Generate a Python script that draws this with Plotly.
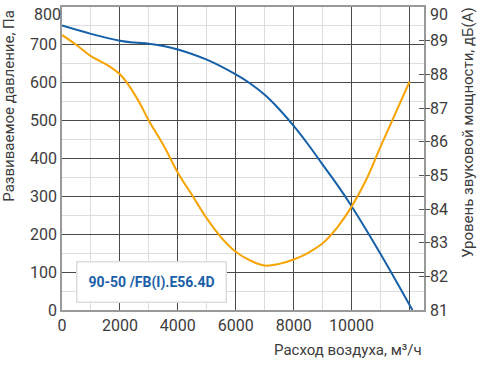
import plotly.graph_objects as go

# Pressure curve (left axis, Pa)
flow_p = [0, 1000, 2000, 2500, 3000, 3500, 4000, 5000, 6000, 6500, 7000, 7500, 8000, 8500, 9000, 9500, 10000, 11000, 12100]
pressure = [751, 729, 711, 706, 703, 697, 688, 661, 622, 598, 568, 530, 486, 437, 384, 331, 274, 148, 0]

# Sound power curve (right axis, dB(A))
flow_s = [0, 500, 1000, 1300, 1650, 2000, 2300, 2700, 3000, 3500, 4000, 4500, 5000, 5500, 6000, 6500, 7000, 7500, 8000, 8500, 9000, 9500, 10000, 10500, 11000, 12000]
sound = [89.17, 88.87, 88.54, 88.4, 88.23, 88.0, 87.68, 87.12, 86.62, 85.9, 85.08, 84.4, 83.72, 83.15, 82.73, 82.47, 82.32, 82.37, 82.5, 82.7, 82.98, 83.45, 84.07, 84.86, 85.85, 87.78]

x_ticks = [0, 2000, 4000, 6000, 8000, 10000, 12000]
x_ticktext = ["0", "2000", "4000", "6000", "8000", "10000", ""]
y_ticks = [0, 100, 200, 300, 400, 500, 600, 700, 800]
y_ticktext = ["0", "100", "200", "300", "400", "500", "600", "700", ""]
y_top = [800]
y2_ticks = [81, 82, 83, 84, 85, 86, 87, 88, 89]
y2_top = [90]
y2_dash = [82, 83, 84, 85, 86, 87, 88, 89]

model_label = "90-50 /FB(I).E56.4D"
x_title = "Расход воздуха, м³/ч"
y_title = "Развиваемое давление, Па"
y2_title = "Уровень звуковой мощности, дБ(А)"

FONT = "Roboto"
TXT = "#3c3c3c"
TICKF = dict(family=FONT, size=16, color=TXT)

fig = go.Figure()
fig.add_trace(go.Scatter(x=flow_p, y=pressure, mode="lines",
                         line=dict(color="#1560a8", width=2, shape="spline", smoothing=1.0),
                         showlegend=False, hoverinfo="skip"))
fig.add_trace(go.Scatter(x=flow_s, y=sound, mode="lines", yaxis="y2",
                         line=dict(color="#f7a300", width=2, shape="spline", smoothing=1.0),
                         showlegend=False, hoverinfo="skip"))
for ax in ["y3", "y4", "y5", "y6"]:
    fig.add_trace(go.Scatter(x=[None], y=[None], yaxis=ax, showlegend=False, hoverinfo="skip"))

common_overlay = dict(overlaying="y", showgrid=False, showline=False, zeroline=False,
                      ticklabeloverflow="allow")

fig.update_layout(
    width=489, height=369,
    margin=dict(l=62, r=65, t=7, b=59, autoexpand=False),
    paper_bgcolor="white", plot_bgcolor="white",
    font=dict(family=FONT, color=TXT, size=16),
    xaxis=dict(range=[0, 12500], tickvals=x_ticks, ticktext=x_ticktext,
               showgrid=True, gridcolor="#4a4a4a", gridwidth=1,
               minor=dict(dtick=1000, showgrid=True, gridcolor="#dddddd", gridwidth=1),
               showline=True, linecolor="#999999", linewidth=1.5, mirror=True,
               ticks="", tickfont=TICKF, zeroline=False, ticklabeloverflow="allow"),
    yaxis=dict(range=[0, 800], tickvals=y_ticks, ticktext=y_ticktext,
               showgrid=True, gridcolor="#4a4a4a", gridwidth=1,
               minor=dict(dtick=50, showgrid=True, gridcolor="#dddddd", gridwidth=1),
               showline=True, linecolor="#999999", linewidth=1.5, mirror=True,
               ticks="", tickfont=TICKF, zeroline=False, ticklabeloverflow="allow"),
    yaxis5=dict(range=[0, 800], tickvals=y_top, side="left", ticks="",
                tickfont=TICKF, ticklabelshift=7, **common_overlay),
    yaxis2=dict(range=[81, 90], tickvals=y2_ticks, side="right",
                ticks="", tickfont=TICKF, ticklabelstandoff=5, **common_overlay),
    yaxis6=dict(range=[81, 90], tickvals=y2_top, side="right",
                ticks="", tickfont=TICKF, ticklabelshift=7, ticklabelstandoff=5, **common_overlay),
    yaxis3=dict(range=[81, 90], tickvals=y2_dash, side="right", showticklabels=False,
                ticks="outside", ticklen=5, tickcolor="#555555", tickwidth=1, **common_overlay),
    yaxis4=dict(range=[81, 90], tickvals=y2_dash, side="right", showticklabels=False,
                ticks="inside", ticklen=5, tickcolor="#555555", tickwidth=1, **common_overlay),
)

fig.add_annotation(text=model_label, xref="paper", yref="paper", x=0.246, y=0.093,
                   showarrow=False, font=dict(family=FONT, size=14, color="#1a5fa8", weight="bold"),
                   bgcolor="white", bordercolor="#dddddd", borderwidth=1.5,
                   borderpad=11, xanchor="center", yanchor="middle")
fig.add_annotation(text=x_title, xref="paper", yref="paper", x=1.0, y=-0.132,
                   xanchor="right", yanchor="middle", showarrow=False,
                   font=dict(family=FONT, size=15, color=TXT))
fig.add_annotation(text=y_title, xref="paper", yref="paper", x=-0.147, y=0.997,
                   xanchor="center", yanchor="top", textangle=-90, showarrow=False,
                   font=dict(family=FONT, size=15, color=TXT))
fig.add_annotation(text=y2_title, xref="paper", yref="paper", x=1.122, y=1.005,
                   xanchor="center", yanchor="top", textangle=-90, showarrow=False,
                   font=dict(family=FONT, size=15, color=TXT))

fig.write_html("out.html", config={"displayModeBar": False},
               post_script="document.body.style.margin='0';")
